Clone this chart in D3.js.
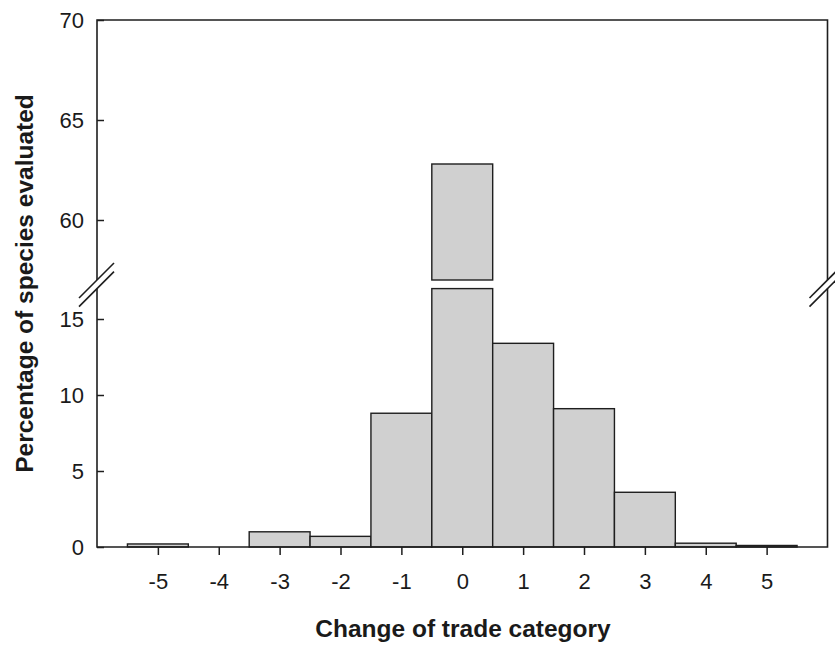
<!doctype html>
<html>
<head>
<style>
  body { margin: 0; background: #fff; }
  text { font-family: "Liberation Sans", Arial, sans-serif; fill: #1a1a1a; }
  .bar { fill: #d0d0d0; stroke: #1e1e1e; stroke-width: 1.4; }
  .frame { stroke: #1e1e1e; stroke-width: 1.6; fill: none; }
</style>
<script src="https://d3js.org/d3.v7.min.js"></script>
</head>
<body>
<svg width="835" height="645"></svg>
<script>
// data
var categories = [-5, -4, -3, -2, -1, 0, 1, 2, 3, 4, 5];
var percentages = [0.2, 0, 1.0, 0.7, 8.8, 62.8, 13.4, 9.1, 3.6, 0.25, 0.1];
var lowerTicks = [0, 5, 10, 15];
var upperTicks = [60, 65, 70];
var lowerRange = [0, 17];   // below the axis break
var upperRange = [57, 70];  // above the axis break

var svg = d3.select("svg");
var pLeft = 97, pRight = 827.5, pTop = 20, pBottom = 547;
var breakLow = 288.6, breakHigh = 280;

var x = d3.scaleLinear().domain([-6, 6]).range([pLeft, pRight]);
var yLow = d3.scaleLinear().domain(lowerRange).range([pBottom, breakLow]);
var yHigh = d3.scaleLinear().domain(upperRange).range([breakHigh, pTop]);

var g = svg.append("g");

// bars, split where they cross the break
var bars = categories.map(function(c, i) { return { cat: c, v: percentages[i] }; })
    .filter(function(d) { return d.v > 0; });

g.selectAll(".bar.low").data(bars).enter().append("rect")
    .attr("class", "bar low")
    .attr("x", function(d) { return x(d.cat - 0.5); })
    .attr("width", function(d) { return x(d.cat + 0.5) - x(d.cat - 0.5); })
    .attr("y", function(d) { return yLow(Math.min(d.v, lowerRange[1])); })
    .attr("height", function(d) { return pBottom - yLow(Math.min(d.v, lowerRange[1])); });

g.selectAll(".bar.high").data(bars.filter(function(d) { return d.v > upperRange[0]; }))
    .enter().append("rect")
    .attr("class", "bar high")
    .attr("x", function(d) { return x(d.cat - 0.5); })
    .attr("width", function(d) { return x(d.cat + 0.5) - x(d.cat - 0.5); })
    .attr("y", function(d) { return yHigh(d.v); })
    .attr("height", function(d) { return breakHigh - yHigh(d.v); });

// frame
g.append("path").attr("class", "frame")
    .attr("d", "M" + pLeft + "," + breakHigh + "V" + pTop + "H" + pRight + "V" + breakHigh);
g.append("path").attr("class", "frame")
    .attr("d", "M" + pLeft + "," + breakLow + "V" + pBottom + "H" + pRight + "V" + breakLow);

// break marks
[pLeft, pRight].forEach(function(px) {
    [breakHigh, breakLow].forEach(function(py) {
        g.append("line").attr("class", "frame")
            .attr("x1", px - 18).attr("y1", py + 18)
            .attr("x2", px + 17).attr("y2", py - 17);
    });
});

// x axis
var xAxis = svg.append("g")
    .attr("transform", "translate(0," + pBottom + ")")
    .call(d3.axisBottom(x).tickValues(categories).tickSize(8).tickPadding(12)
        .tickFormat(function(d) { return d; }));
xAxis.select(".domain").remove();
xAxis.selectAll("line").attr("stroke", "#1e1e1e").attr("stroke-width", 1.5);
xAxis.selectAll("text").attr("dy", "1.0em")
    .style("font-size", "22px").style("font-family", "'Liberation Sans', Arial, sans-serif");

// y axes (ticks point inward)
function yAxis(scale, ticks) {
    var a = svg.append("g")
        .attr("transform", "translate(" + pLeft + ",0)")
        .call(d3.axisLeft(scale).tickValues(ticks).tickSizeInner(-7).tickSizeOuter(0).tickPadding(13));
    a.select(".domain").remove();
    a.selectAll("line").attr("stroke", "#1e1e1e").attr("stroke-width", 1.5);
    a.selectAll("text")
        .style("font-size", "22px").style("font-family", "'Liberation Sans', Arial, sans-serif");
    return a;
}
yAxis(yLow, lowerTicks);
yAxis(yHigh, upperTicks);

// titles
svg.append("text")
    .attr("x", 463).attr("y", 637)
    .attr("text-anchor", "middle")
    .attr("font-size", "24.5px").attr("font-weight", "bold")
    .text("Change of trade category");

svg.append("text")
    .attr("transform", "translate(33,283.5) rotate(-90)")
    .attr("text-anchor", "middle")
    .attr("font-size", "24.5px").attr("font-weight", "bold")
    .text("Percentage of species evaluated");
</script>
</body>
</html>
